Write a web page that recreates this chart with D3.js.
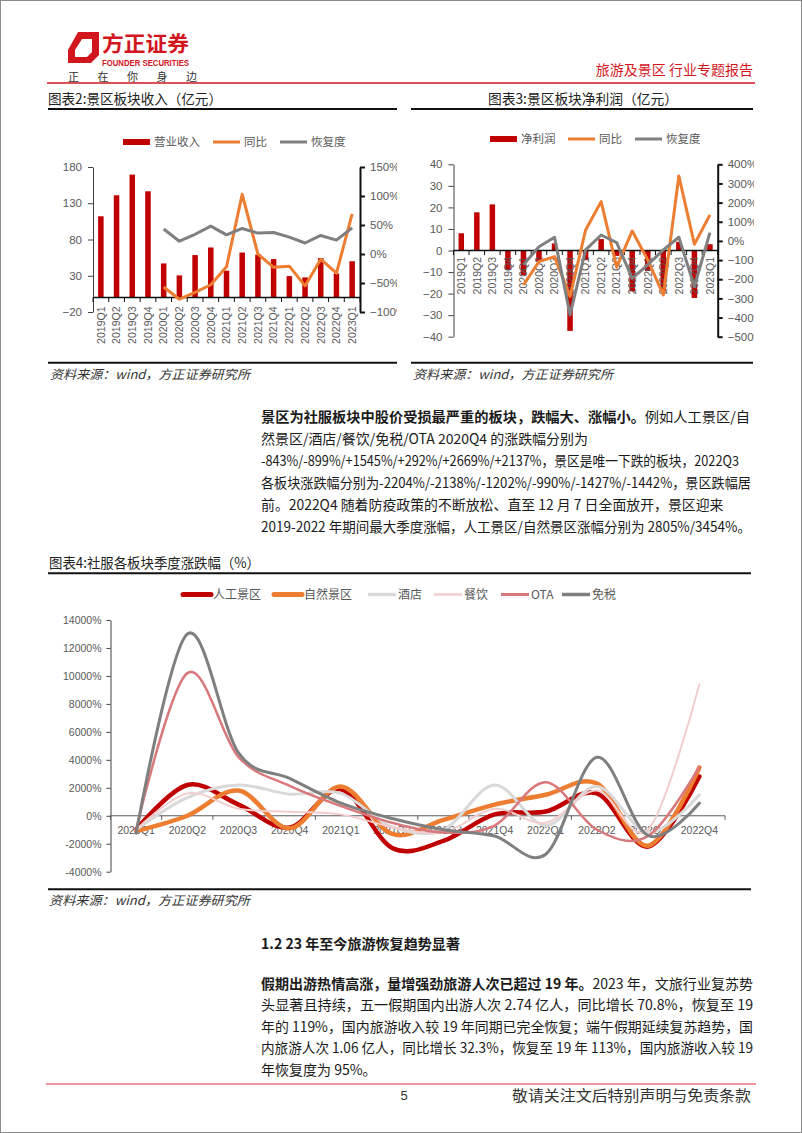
<!DOCTYPE html>
<html><head><meta charset="utf-8">
<script src="https://cdn.jsdelivr.net/npm/d3@7"></script>
<style>
html,body{margin:0;padding:0;background:#fff;}
svg{display:block;}
</style></head><body>
<svg id="page" width="802" height="1133"></svg>
<script>
// ---------------- DATA ----------------
const quarters = ["2019Q1","2019Q2","2019Q3","2019Q4","2020Q1","2020Q2","2020Q3","2020Q4","2021Q1","2021Q2","2021Q3","2021Q4","2022Q1","2022Q2","2022Q3","2022Q4","2023Q1"];
// chart 2: revenue (亿元), yoy (%), recovery (%)
const revenue = [112,141,169.5,146.5,47,30.5,58.5,69,37,62,59,53,29.5,27.7,54.5,33,50];
const revenueYoY = [null,null,null,null,-57,-78,-66,-53,-22,103,0,-23,-21,-55,-9,-33,69];
const revenueRecovery = [null,null,null,null,43,22,34,48,33,44,36,37,29,19,32,24,45];
const rev2LeftTicks = [-20,30,80,130,180];
const rev2RightTicks = [-100,-50,0,50,100,150];
const chart2Legend = ["营业收入","同比","恢复度"];
// chart 3: net profit (亿元), yoy (%), recovery (%)
const profit = [8,17.7,21.4,-9,-11.4,-5,3.3,-37.3,-4.5,5.3,-2.5,-19,-9.5,-19,4,-22,2.9];
const profitYoY = [null,null,null,null,-230,-108,-82,-290,57,205,-137,52,-99,-282,339,-17,136];
const profitRecovery = [null,null,null,null,-125,-30,19,-386,-47,31,-9,-195,-125,-47,19,-238,43];
const prof3LeftTicks = [-40,-30,-20,-10,0,10,20,30,40];
const prof3RightTicks = [-500,-400,-300,-200,-100,0,100,200,300,400];
const chart3Legend = ["净利润","同比","恢复度"];
// chart 4: quarterly change by sector (%)
const quarters4 = ["2020Q1","2020Q2","2020Q3","2020Q4","2021Q1","2021Q2","2021Q3","2021Q4","2022Q1","2022Q2","2022Q3","2022Q4"];
const sectorNames = ["人工景区","自然景区","酒店","餐饮","OTA","免税"];
const manmadeScenic = [-1000,2200,800,-843,1900,-2300,-1800,100,300,1600,-2204,2805];
const naturalScenic = [-1100,0,1800,-899,2100,-1300,-300,800,1500,2300,-2138,3454];
const hotel = [-1000,1300,2200,1545,1600,-800,-1000,2200,-700,2100,-1202,1500];
const catering = [-1000,1600,500,292,100,-800,-1200,500,-500,1800,-990,9400];
const ota = [-1000,10200,4200,2137,700,-500,-1200,-700,2400,-1000,-1442,3500];
const dutyFree = [-1250,13000,4500,2669,900,-200,-1000,-1450,-2750,4180,-1427,900];
const chart4Ticks = [-4000,-2000,0,2000,4000,6000,8000,10000,12000,14000];

// text content
const para1 = [
  ["景区为社服板块中股价受损最严重的板块，跌幅大、涨幅小。","例如人工景区/自"],
  ["","然景区/酒店/餐饮/免税/OTA 2020Q4 的涨跌幅分别为"],
  ["","-843%/-899%/+1545%/+292%/+2669%/+2137%，景区是唯一下跌的板块，2022Q3"],
  ["","各板块涨跌幅分别为-2204%/-2138%/-1202%/-990%/-1427%/-1442%，景区跌幅居"],
  ["","前。2022Q4 随着防疫政策的不断放松、直至 12 月 7 日全面放开，景区迎来"],
  ["","2019-2022 年期间最大季度涨幅，人工景区/自然景区涨幅分别为 2805%/3454%。"]
];
const para2 = [
  ["假期出游热情高涨，量增强劲旅游人次已超过 19 年。","2023 年，文旅行业复苏势"],
  ["","头显著且持续，五一假期国内出游人次 2.74 亿人，同比增长 70.8%，恢复至 19"],
  ["","年的 119%，国内旅游收入较 19 年同期已完全恢复；端午假期延续复苏趋势，国"],
  ["","内旅游人次 1.06 亿人，同比增长 32.3%，恢复至 19 年 113%，国内旅游收入较 19"],
  ["","年恢复度为 95%。"]
];

// ---------------- DRAW ----------------
const svg = d3.select("#page");
const CJK = '"Noto Sans CJK SC","Noto Sans",sans-serif';
const LAT = '"Liberation Sans",Arial,sans-serif';
const GRAY = "#595959";
const RED = "#c00000", ORANGE = "#ed7d31", DGRAY = "#7f7f7f";
const minus = v => String(v).replace("-", "\u2212");

svg.append("rect").attr("x",0.5).attr("y",0.5).attr("width",801).attr("height",1132)
  .attr("fill","none").attr("stroke","#8c8c8c").attr("stroke-width",1);

function txt(g, x, y, s, o = {}) {
  const t = g.append("text").attr("x", x).attr("y", y).text(s)
    .attr("font-family", o.ff || CJK).attr("font-size", o.fs || 12)
    .attr("fill", o.fill || "#222");
  if (o.anchor) t.attr("text-anchor", o.anchor);
  if (o.fw) t.attr("font-weight", o.fw);
  if (o.style) t.attr("font-style", o.style);
  if (o.len) t.attr("textLength", o.len).attr("lengthAdjust", "spacingAndGlyphs");
  return t;
}

// ---------- header ----------
const hdr = svg.append("g");
hdr.append("path").attr("d","M68,50 L78,32 L99,32 L99,55 L91,63 L68,63 Z").attr("fill","#d2161e");
hdr.append("path").attr("d","M75,50 L82,39 L92,39 L92,52 L87,57 L75,57 Z").attr("fill","#fff");
txt(hdr, 102, 51, "方正证券", {fs: 21, fw: 700, fill: "#d2161e", len: 87});
txt(hdr, 102, 66, "FOUNDER SECURITIES", {ff: LAT, fs: 9, fw: 700, fill: "#d2161e", len: 87});
["正","在","你","身","边"].forEach((c,i) => txt(hdr, 68 + i*29.5, 81, c, {fs: 11, fill: "#333"}));
txt(hdr, 753, 75, "旅游及景区 行业专题报告", {fs: 14, fill: "#d2161e", anchor: "end"});
hdr.append("line").attr("x1",47).attr("x2",755).attr("y1",83).attr("y2",83).attr("stroke","#d2161e").attr("stroke-width",1.5);

// ---------- bar + line combo charts ----------
function comboChart(cfg) {
  const g = svg.append("g");
  txt(g, cfg.titleX, 104, cfg.title, {fs: 14, fill: "#222", anchor: cfg.titleAnchor || "start", len: cfg.titleLen});
  g.append("line").attr("x1",cfg.boxL).attr("x2",cfg.boxR).attr("y1",109).attr("y2",109).attr("stroke","#111").attr("stroke-width",2);
  g.append("line").attr("x1",cfg.boxL).attr("x2",cfg.boxR).attr("y1",362.7).attr("y2",362.7).attr("stroke","#111").attr("stroke-width",2);
  txt(g, cfg.boxL + 2, 379, "资料来源：wind，方正证券研究所", {fs: 12.5, style: "italic", fill: "#333", len: 200});

  // legend
  const lg = g.append("g");
  const ly = cfg.legendY;
  lg.append("rect").attr("x",cfg.legX[0]).attr("y",ly-3).attr("width",27).attr("height",6).attr("fill",RED);
  lg.append("line").attr("x1",cfg.legX[1]).attr("x2",cfg.legX[1]+27).attr("y1",ly).attr("y2",ly).attr("stroke",ORANGE).attr("stroke-width",3);
  lg.append("line").attr("x1",cfg.legX[2]).attr("x2",cfg.legX[2]+27).attr("y1",ly).attr("y2",ly).attr("stroke",DGRAY).attr("stroke-width",3);
  cfg.legend.forEach((s,i) => txt(lg, cfg.legX[i]+31, ly+4, s, {fs: 11.5, fill: GRAY}));

  const x = d3.scaleBand().domain(cfg.cats).range([cfg.x0, cfg.x1]);
  const cx = i => x(cfg.cats[i]) + x.bandwidth()/2;
  const yL = d3.scaleLinear().domain(cfg.yLdom).range([cfg.yBottom, cfg.yTop]);
  const yR = d3.scaleLinear().domain(cfg.yRdom).range([cfg.yBottom, cfg.yTop]);

  const la = g.append("g").attr("transform",`translate(${cfg.x0},0)`)
    .call(d3.axisLeft(yL).tickValues(cfg.yLticks).tickSize(5).tickSizeOuter(0).tickPadding(6).tickFormat(minus));
  la.selectAll("path,line").attr("stroke","#404040").attr("stroke-width",1);
  la.selectAll("text").attr("font-family",LAT).attr("font-size",11.5).attr("fill",GRAY);

  const clipId = "clip" + cfg.id;
  svg.append("defs").append("clipPath").attr("id",clipId).append("rect")
    .attr("x",0).attr("y",0).attr("width",cfg.clipX).attr("height",1133);
  const ra = g.append("g").attr("clip-path",`url(#${clipId})`).append("g").attr("transform",`translate(${cfg.x1},0)`)
    .call(d3.axisRight(yR).tickValues(cfg.yRticks).tickSize(5).tickSizeOuter(0).tickPadding(5).tickFormat(d => minus(d) + "%"));
  ra.selectAll("path,line").attr("stroke","#111").attr("stroke-width",2);
  ra.selectAll("text").attr("font-family",LAT).attr("font-size",11.5).attr("fill",GRAY);

  const bw = 5.5;
  g.append("g").selectAll("rect").data(cfg.bars).join("rect")
    .attr("x",(d,i) => cx(i) - bw/2).attr("width",bw)
    .attr("y",d => Math.min(yL(0), yL(d))).attr("height",d => Math.abs(yL(d) - yL(0)))
    .attr("fill",RED);

  const y0 = yL(0);
  g.append("line").attr("x1",cfg.x0).attr("x2",cfg.x1).attr("y1",y0).attr("y2",y0).attr("stroke","#111").attr("stroke-width",1.5);
  const bounds = cfg.cats.map(c => x(c)).concat([cfg.x1]);
  g.append("g").selectAll("line").data(bounds).join("line")
    .attr("x1",d => d).attr("x2",d => d).attr("y1",y0).attr("y2",y0+4.5).attr("stroke","#111").attr("stroke-width",1);
  g.append("g").selectAll("text").data(cfg.cats).join("text")
    .attr("transform",(d,i) => `translate(${cx(i)},${y0 + cfg.labelGap}) rotate(-90)`)
    .attr("text-anchor","end").attr("dy","0.36em")
    .attr("font-family",LAT).attr("font-size",10.5).attr("fill",GRAY).text(d => d);

  const line = d3.line().defined(d => d != null).x((d,i) => cx(i)).y(d => yR(d));
  g.append("path").datum(cfg.yoy).attr("d",line).attr("fill","none").attr("stroke",ORANGE).attr("stroke-width",3).attr("stroke-linejoin","round");
  g.append("path").datum(cfg.rec).attr("d",line).attr("fill","none").attr("stroke",DGRAY).attr("stroke-width",3).attr("stroke-linejoin","round");
}

comboChart({
  id: 2, title: "图表2:景区板块收入（亿元）", titleX: 48, titleLen: 174, boxL: 48, boxR: 397,
  legend: chart2Legend, legendY: 142, legX: [123, 213, 280],
  cats: quarters, x0: 93, x1: 360, yTop: 167, yBottom: 312,
  yLdom: [-20,180], yRdom: [-100,150], yLticks: rev2LeftTicks, yRticks: rev2RightTicks,
  bars: revenue, yoy: revenueYoY, rec: revenueRecovery, clipX: 397, labelGap: 9
});
comboChart({
  id: 3, title: "图表3:景区板块净利润（亿元）", titleX: 583, titleLen: 190, titleAnchor: "middle", boxL: 411, boxR: 753,
  legend: chart3Legend, legendY: 139, legX: [490, 568, 635],
  cats: quarters, x0: 453.5, x1: 717.7, yTop: 164.3, yBottom: 336.7,
  yLdom: [-40,40], yRdom: [-500,400], yLticks: prof3LeftTicks, yRticks: prof3RightTicks,
  bars: profit, yoy: profitYoY, rec: profitRecovery, clipX: 754, labelGap: 6.5
});

// ---------- paragraphs ----------
function paragraph(lines, ends, x, yStart, dy, fs) {
  const g = svg.append("g");
  lines.forEach((ln, i) => {
    const t = g.append("text").attr("x", x).attr("y", yStart + i*dy)
      .attr("font-family", CJK).attr("font-size", fs).attr("fill", "#1a1a1a");
    if (ln[0]) t.append("tspan").attr("font-weight", 700).text(ln[0]);
    t.append("tspan").text(ln[1]);
    if (ends[i]) t.attr("textLength", ends[i] - x).attr("lengthAdjust", "spacingAndGlyphs");
  });
}
paragraph(para1, [750, 588, 739, 751, 723.5, 751], 261, 421.5, 22.1, 14);

// ---------- chart 4 ----------
const g4 = svg.append("g");
txt(g4, 49, 568, "图表4:社服各板块季度涨跌幅（%）", {fs: 14, fill: "#222", len: 211});
g4.append("line").attr("x1",48).attr("x2",751).attr("y1",573.3).attr("y2",573.3).attr("stroke","#111").attr("stroke-width",2);
g4.append("line").attr("x1",48).attr("x2",751).attr("y1",889.3).attr("y2",889.3).attr("stroke","#111").attr("stroke-width",2);
txt(g4, 49, 905, "资料来源：wind，方正证券研究所", {fs: 12.5, style: "italic", fill: "#333", len: 201});

const sectorColors = ["#c00000","#ed7d31","#d9d9d9","#f2cdcd","#d9787b","#7f7f7f"];
const sectorWidths = [4.5,4.5,3,2,2.5,3];
const sectorData = [manmadeScenic, naturalScenic, hotel, catering, ota, dutyFree];

const legX4 = [183, 274, 368, 434, 501, 562];
sectorNames.forEach((n,i) => {
  g4.append("line").attr("x1",legX4[i]).attr("x2",legX4[i]+28).attr("y1",594.5).attr("y2",594.5)
    .attr("stroke",sectorColors[i]).attr("stroke-width",i < 2 ? 5 : sectorWidths[i] + 0.5).attr("stroke-linecap", i < 2 ? "round" : "butt");
  txt(g4, legX4[i] + 30, 599, n, {fs: 12, fill: GRAY});
});

const x4 = d3.scaleBand().domain(quarters4).range([110.5, 725]);
const y4 = d3.scaleLinear().domain([-4000,14000]).range([871.7, 620]);
const ya4 = g4.append("g").attr("transform","translate(110.5,0)")
  .call(d3.axisLeft(y4).tickValues(chart4Ticks).tickSize(4).tickSizeOuter(0).tickPadding(5).tickFormat(d => d + "%"));
ya4.selectAll("path,line").attr("stroke","#404040");
ya4.selectAll("text").attr("font-family",LAT).attr("font-size",10.5).attr("fill",GRAY);

const zy = y4(0);
g4.append("line").attr("x1",110.5).attr("x2",725).attr("y1",zy).attr("y2",zy).attr("stroke","#595959").attr("stroke-width",1);
g4.append("g").selectAll("line").data(quarters4.map(q => x4(q)).concat([725])).join("line")
  .attr("x1",d => d).attr("x2",d => d).attr("y1",zy).attr("y2",zy+4).attr("stroke","#595959");
g4.append("g").selectAll("text").data(quarters4).join("text")
  .attr("x",d => x4(d) + x4.bandwidth()/2).attr("y",zy + 18).attr("text-anchor","middle")
  .attr("font-family",LAT).attr("font-size",10.5).attr("fill",GRAY).text(d => d);

const line4 = d3.line().x((d,i) => x4(quarters4[i]) + x4.bandwidth()/2).y(d => y4(d)).curve(d3.curveCatmullRom.alpha(0));
sectorData.forEach((arr,i) => {
  g4.append("path").datum(arr).attr("d",line4).attr("fill","none")
    .attr("stroke",sectorColors[i]).attr("stroke-width",sectorWidths[i]).attr("stroke-linejoin","round").attr("stroke-linecap","round");
});

// ---------- section 1.2 ----------
txt(svg, 261, 949, "1.2 23 年至今旅游恢复趋势显著", {fs: 14, fw: 700, fill: "#1a1a1a", len: 199});
paragraph(para2, [753, 753, 753, 753, null], 261, 988.5, 21.5, 14);

// ---------- footer ----------
svg.append("line").attr("x1",46).attr("x2",756).attr("y1",1084).attr("y2",1084).attr("stroke","#e5707c").attr("stroke-width",1.5);
txt(svg, 404, 1100, "5", {ff: LAT, fs: 13, fill: "#333", anchor: "middle"});
txt(svg, 512, 1101, "敬请关注文后特别声明与免责条款", {fs: 15, fill: "#333", len: 239});
</script>
</body></html>
